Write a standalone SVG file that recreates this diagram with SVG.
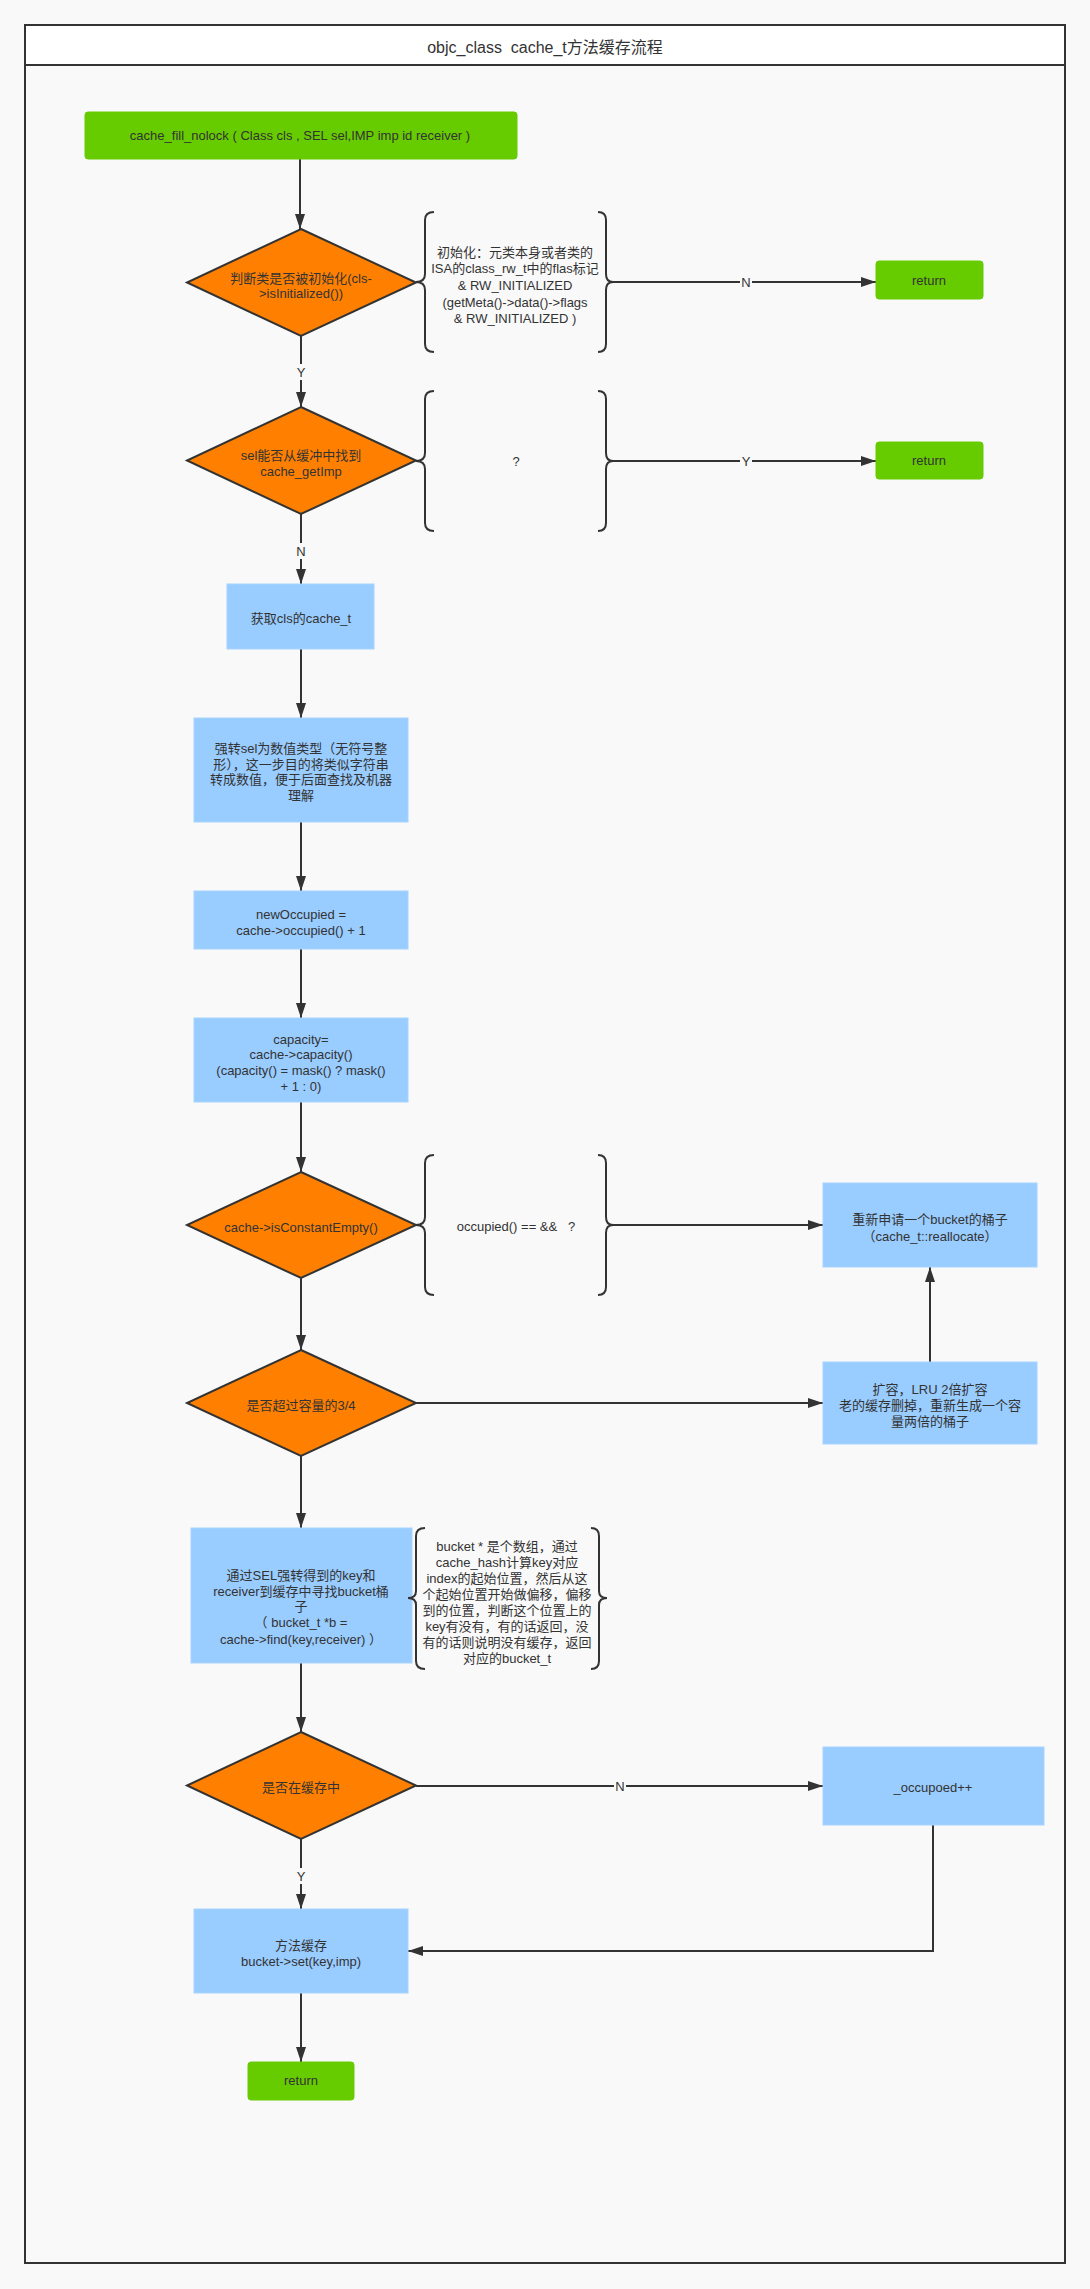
<svg xmlns="http://www.w3.org/2000/svg" width="1090" height="2289" viewBox="0 0 1090 2289">
<defs>
<style>
.t{font-family:"Liberation Sans","Noto Sans CJK SC",sans-serif;font-size:13px;fill:#333;text-anchor:middle;white-space:pre}
.title{font-size:16px}
.dia{fill:#ff8000;stroke:#333;stroke-width:2}
.blue{fill:#99ccff;stroke:#a8d4ff;stroke-width:1}
.green{fill:#66cc00;stroke:#66cc00;stroke-width:1}
.conn{fill:none;stroke:#333;stroke-width:2}
.brace{fill:none;stroke:#333;stroke-width:2}
.lbg{fill:#f9f9f9}
</style>
<marker id="ah" markerWidth="15" markerHeight="10" refX="15" refY="5" orient="auto" markerUnits="userSpaceOnUse">
<path d="M0,0 L15,5 L0,10 z" fill="#333"/>
</marker>
</defs>
<rect x="0" y="0" width="1090" height="2289" fill="#f9f9f9"/>
<g id="frame">
<rect x="25" y="25" width="1040" height="2238" fill="#f9f9f9" stroke="#333" stroke-width="2"/>
<rect x="25" y="25" width="1040" height="40" fill="#ffffff" stroke="#333" stroke-width="2"/>
<text class="t title" x="545" y="53" xml:space="preserve">objc_class  cache_t方法缓存流程</text>
</g>

<g id="connectors">
<path class="conn" d="M300,159 L300,229" marker-end="url(#ah)"/>
<path class="conn" d="M301,336 L301,407" marker-end="url(#ah)"/>
<path class="conn" d="M612,282 L876,282" marker-end="url(#ah)"/>
<path class="conn" d="M612,461 L876,461" marker-end="url(#ah)"/>
<path class="conn" d="M301,514 L301,584" marker-end="url(#ah)"/>
<path class="conn" d="M301,649 L301,718" marker-end="url(#ah)"/>
<path class="conn" d="M301,822 L301,891" marker-end="url(#ah)"/>
<path class="conn" d="M301,949 L301,1018" marker-end="url(#ah)"/>
<path class="conn" d="M301,1102 L301,1172" marker-end="url(#ah)"/>
<path class="conn" d="M612,1225 L823,1225" marker-end="url(#ah)"/>
<path class="conn" d="M301,1278 L301,1350" marker-end="url(#ah)"/>
<path class="conn" d="M416,1403 L823,1403" marker-end="url(#ah)"/>
<path class="conn" d="M930,1362 L930,1267" marker-end="url(#ah)"/>
<path class="conn" d="M301,1456 L301,1528" marker-end="url(#ah)"/>
<path class="conn" d="M301,1663 L301,1732" marker-end="url(#ah)"/>
<path class="conn" d="M416,1786 L823,1786" marker-end="url(#ah)"/>
<path class="conn" d="M301,1839 L301,1909" marker-end="url(#ah)"/>
<path class="conn" d="M933,1825 L933,1951 L408,1951" marker-end="url(#ah)"/>
<path class="conn" d="M301,1993 L301,2062" marker-end="url(#ah)"/>
<rect class="lbg" x="295" y="364" width="12" height="16"/>
<text class="t" x="301" y="377">Y</text>
<rect class="lbg" x="740" y="274" width="12" height="16"/>
<text class="t" x="746" y="287">N</text>
<rect class="lbg" x="740" y="453" width="12" height="16"/>
<text class="t" x="746" y="466">Y</text>
<rect class="lbg" x="295" y="543" width="12" height="16"/>
<text class="t" x="301" y="556">N</text>
<rect class="lbg" x="614" y="1778" width="12" height="16"/>
<text class="t" x="620" y="1791">N</text>
<rect class="lbg" x="295" y="1868" width="12" height="16"/>
<text class="t" x="301" y="1881">Y</text>
</g>

<g id="start">
<rect class="green" x="85" y="112" width="432" height="47" rx="3"/>
<text class="t" x="300" y="140">cache_fill_nolock ( Class cls , SEL sel,IMP imp id receiver )</text>
</g>

<g id="isInitialized">
<polygon class="dia" points="301,229 416,282.5 301,336 187,282.5"/>
<text class="t" x="301" y="283">判断类是否被初始化(cls-</text>
<text class="t" x="301" y="298">&gt;isInitialized())</text>
</g>

<g id="note-init">
<path class="brace" d="M434,212 Q425,212 425,220 L425,274 Q425,282 416,282 Q425,282 425,290 L425,344 Q425,352 434,352"/>
<path class="brace" d="M598,212 Q606,212 606,220 L606,274 Q606,282 613,282 Q606,282 606,290 L606,344 Q606,352 598,352"/>
<text class="t" x="515" y="257">初始化：元类本身或者类的</text>
<text class="t" x="515" y="273">ISA的class_rw_t中的flas标记</text>
<text class="t" x="515" y="290">&amp; RW_INITIALIZED</text>
<text class="t" x="515" y="307">(getMeta()-&gt;data()-&gt;flags</text>
<text class="t" x="515" y="323">&amp; RW_INITIALIZED )</text>
</g>

<g id="return1">
<rect class="green" x="876" y="261" width="107" height="38" rx="3"/>
<text class="t" x="929" y="285">return</text>
</g>

<g id="getImp">
<polygon class="dia" points="301,407 416,460.5 301,514 187,460.5"/>
<text class="t" x="301" y="460">sel能否从缓冲中找到</text>
<text class="t" x="301" y="476">cache_getImp</text>
</g>

<g id="note-getImp">
<path class="brace" d="M434,391 Q425,391 425,399 L425,453 Q425,461 416,461 Q425,461 425,469 L425,523 Q425,531 434,531"/>
<path class="brace" d="M598,391 Q606,391 606,399 L606,453 Q606,461 613,461 Q606,461 606,469 L606,523 Q606,531 598,531"/>
<text class="t" x="516" y="466">?</text>
</g>

<g id="return2">
<rect class="green" x="876" y="442" width="107" height="37" rx="3"/>
<text class="t" x="929" y="465">return</text>
</g>

<g id="getCache">
<rect class="blue" x="227" y="584" width="147" height="65"/>
<text class="t" x="301" y="623">获取cls的cache_t</text>
</g>

<g id="castSel">
<rect class="blue" x="194" y="718" width="214" height="104"/>
<text class="t" x="301" y="753">强转sel为数值类型（无符号整</text>
<text class="t" x="301" y="769">形），这一步目的将类似字符串</text>
<text class="t" x="301" y="784">转成数值，便于后面查找及机器</text>
<text class="t" x="301" y="800">理解</text>
</g>

<g id="newOccupied">
<rect class="blue" x="194" y="891" width="214" height="58"/>
<text class="t" x="301" y="919">newOccupied =</text>
<text class="t" x="301" y="935">cache-&gt;occupied() + 1</text>
</g>

<g id="capacity">
<rect class="blue" x="194" y="1018" width="214" height="84"/>
<text class="t" x="301" y="1044">capacity=</text>
<text class="t" x="301" y="1059">cache-&gt;capacity()</text>
<text class="t" x="301" y="1075">(capacity() = mask() ? mask()</text>
<text class="t" x="301" y="1091">+ 1 : 0)</text>
</g>

<g id="isConstantEmpty">
<polygon class="dia" points="301,1172 416,1225 301,1278 187,1225"/>
<text class="t" x="301" y="1232">cache-&gt;isConstantEmpty()</text>
</g>

<g id="note-empty">
<path class="brace" d="M434,1155 Q425,1155 425,1163 L425,1217 Q425,1225 416,1225 Q425,1225 425,1233 L425,1287 Q425,1295 434,1295"/>
<path class="brace" d="M598,1155 Q606,1155 606,1163 L606,1217 Q606,1225 613,1225 Q606,1225 606,1233 L606,1287 Q606,1295 598,1295"/>
<text class="t" x="516" y="1231" xml:space="preserve">occupied() == &amp;&amp;   ?</text>
</g>

<g id="reallocate">
<rect class="blue" x="823" y="1183" width="214" height="84"/>
<text class="t" x="930" y="1224">重新申请一个bucket的桶子</text>
<text class="t" x="930" y="1241">（cache_t::reallocate）</text>
</g>

<g id="overLoad">
<polygon class="dia" points="301,1350 416,1403 301,1456 187,1403"/>
<text class="t" x="301" y="1410">是否超过容量的3/4</text>
</g>

<g id="expand">
<rect class="blue" x="823" y="1362" width="214" height="82"/>
<text class="t" x="930" y="1394">扩容，LRU 2倍扩容</text>
<text class="t" x="930" y="1410">老的缓存删掉，重新生成一个容</text>
<text class="t" x="930" y="1426">量两倍的桶子</text>
</g>

<g id="findBucket">
<rect class="blue" x="191" y="1528" width="221" height="135"/>
<text class="t" x="301" y="1580">通过SEL强转得到的key和</text>
<text class="t" x="301" y="1596">receiver到缓存中寻找bucket桶</text>
<text class="t" x="301" y="1611">子</text>
<text class="t" x="301" y="1627">（ bucket_t *b =</text>
<text class="t" x="301" y="1644">cache-&gt;find(key,receiver) ）</text>
</g>

<g id="note-find">
<path class="brace" d="M425,1528 Q416,1528 416,1536 L416,1591 Q416,1598 408,1598 Q416,1598 416,1605 L416,1661 Q416,1669 425,1669"/>
<path class="brace" d="M591,1528 Q599,1528 599,1536 L599,1591 Q599,1598 607,1598 Q599,1598 599,1605 L599,1661 Q599,1669 591,1669"/>
<text class="t" x="507" y="1551">bucket * 是个数组，通过</text>
<text class="t" x="507" y="1567">cache_hash计算key对应</text>
<text class="t" x="507" y="1583">index的起始位置，然后从这</text>
<text class="t" x="507" y="1599">个起始位置开始做偏移，偏移</text>
<text class="t" x="507" y="1615">到的位置，判断这个位置上的</text>
<text class="t" x="507" y="1631">key有没有，有的话返回，没</text>
<text class="t" x="507" y="1647">有的话则说明没有缓存，返回</text>
<text class="t" x="507" y="1663">对应的bucket_t</text>
</g>

<g id="inCache">
<polygon class="dia" points="301,1732 416,1785.5 301,1839 187,1785.5"/>
<text class="t" x="301" y="1792">是否在缓存中</text>
</g>

<g id="occupied">
<rect class="blue" x="823" y="1747" width="221" height="78"/>
<text class="t" x="933" y="1792">_occupoed++</text>
</g>

<g id="setCache">
<rect class="blue" x="194" y="1909" width="214" height="84"/>
<text class="t" x="301" y="1950">方法缓存</text>
<text class="t" x="301" y="1966">bucket-&gt;set(key,imp)</text>
</g>

<g id="return3">
<rect class="green" x="248" y="2062" width="106" height="38" rx="3"/>
<text class="t" x="301" y="2085">return</text>
</g>
</svg>
